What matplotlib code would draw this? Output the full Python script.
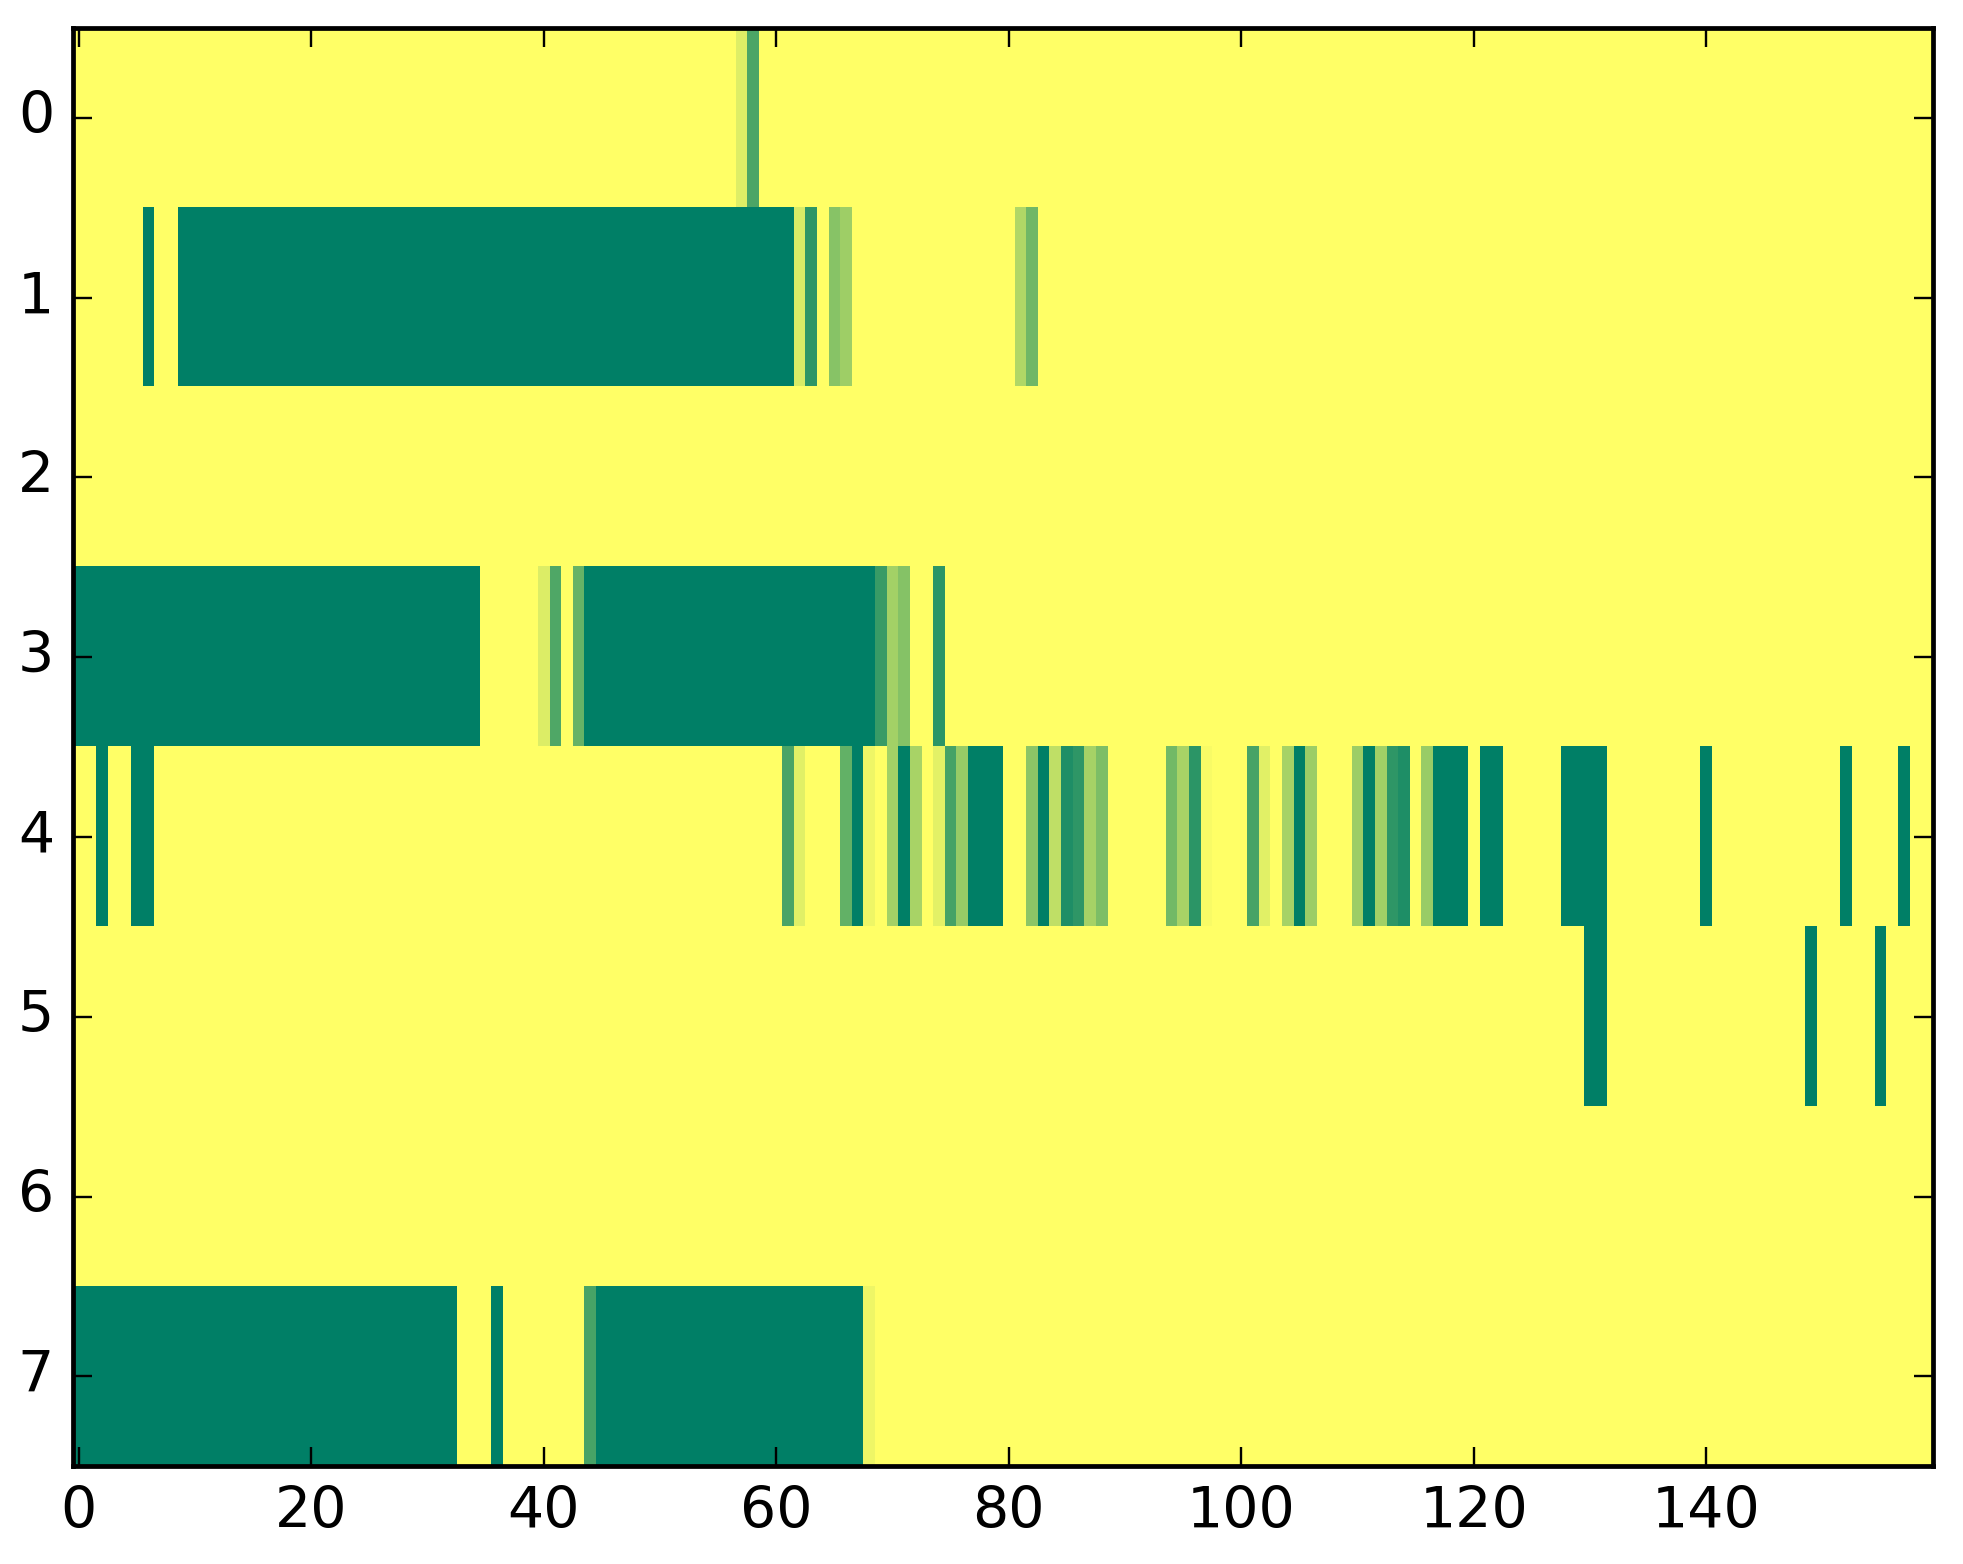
import numpy as np
import matplotlib
matplotlib.use("Agg")
import matplotlib.pyplot as plt
from matplotlib import font_manager

plt.style.use("classic")

n_rows = 8
n_cols = 160

# runs per row: (first column, last column, value)
row0 = [(57, 57, 0.13), (58, 58, 0.70)]
row1 = [(6, 6, 1.0), (9, 61, 1.0), (62, 62, 0.15), (63, 63, 0.82),
        (65, 65, 0.47), (66, 66, 0.38), (81, 81, 0.31), (82, 82, 0.56)]
row2 = []
row3 = [(0, 34, 1.0), (40, 40, 0.14), (41, 41, 0.69), (43, 43, 0.60),
        (44, 68, 1.0), (69, 69, 0.78), (70, 70, 0.36), (71, 71, 0.48),
        (74, 74, 0.83)]
row4 = [(2, 2, 1.0), (5, 6, 1.0), (61, 61, 0.71), (62, 62, 0.12),
        (66, 66, 0.61), (67, 67, 1.0), (68, 68, 0.07), (70, 70, 0.36),
        (71, 71, 1.0), (72, 72, 0.34), (74, 74, 0.11), (75, 75, 0.73),
        (76, 76, 0.41), (77, 79, 1.0), (82, 82, 0.45), (83, 83, 1.0),
        (84, 84, 0.25), (85, 85, 0.88), (86, 86, 0.82), (87, 87, 0.35),
        (88, 88, 0.51), (94, 94, 0.55), (95, 95, 0.34), (96, 96, 0.83),
        (97, 97, 0.03), (101, 101, 0.72), (102, 102, 0.12), (104, 104, 0.35),
        (105, 105, 1.0), (106, 106, 0.39), (110, 110, 0.39), (111, 111, 1.0),
        (112, 112, 0.37), (113, 113, 0.82), (114, 114, 0.88), (116, 116, 0.40),
        (117, 119, 1.0), (121, 122, 1.0), (128, 131, 1.0), (140, 140, 1.0),
        (152, 152, 1.0), (157, 157, 1.0)]
row5 = [(130, 131, 1.0), (149, 149, 1.0), (155, 155, 1.0)]
row6 = []
row7 = [(0, 32, 1.0), (36, 36, 1.0), (44, 44, 0.72), (45, 67, 1.0),
        (68, 68, 0.07)]

rows = [row0, row1, row2, row3, row4, row5, row6, row7]

data = np.zeros((n_rows, n_cols))
for i, runs in enumerate(rows):
    for a, b, v in runs:
        data[i, a:b + 1] = v

# narrow digits like the reference, if the condensed face is there
names = {f.name for f in font_manager.fontManager.ttflist}
if "DejaVu Sans Condensed" in names:
    tick_font = dict(family="DejaVu Sans Condensed", size=13.3)
else:
    tick_font = dict(family="DejaVu Sans", size=12)

fig = plt.figure(figsize=(1963 / 342, 1564 / 342), dpi=342)
ax = fig.add_axes([0.0372, 0.0625, 0.9475, 0.9196])
ax.imshow(data, cmap="summer_r", vmin=0, vmax=1, aspect="auto",
          interpolation="nearest")
ax.set_xlim(-0.5, n_cols - 0.5)
ax.set_ylim(n_rows - 0.5, -0.5)
ax.set_yticks(range(n_rows))
ax.set_xticks(range(0, 141, 20))
for lab in ax.get_xticklabels() + ax.get_yticklabels():
    lab.set_fontfamily(tick_font["family"])
    lab.set_fontsize(tick_font["size"])

fig.savefig("out.png", dpi=342)
